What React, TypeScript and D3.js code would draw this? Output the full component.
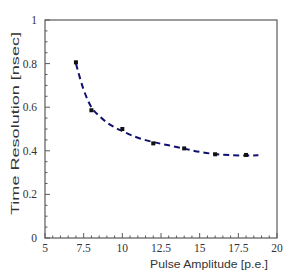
import { useEffect, useRef } from "react";
import * as d3 from "d3";

// measured points
const amplitude = [7, 8, 10, 12, 14, 16, 18];
const resolution = [0.806, 0.586, 0.5, 0.434, 0.411, 0.384, 0.381];

// fit curve
const fitX = [7, 7.5, 8, 8.5, 9, 10, 11, 12, 13, 14, 15, 16, 17, 18, 18.8];
const fitY = [0.8, 0.68, 0.6, 0.56, 0.53, 0.49, 0.46, 0.44, 0.425, 0.41, 0.395, 0.385, 0.38, 0.378, 0.38];

const xTicks = [5, 7.5, 10, 12.5, 15, 17.5, 20];
const yTicks = [0, 0.2, 0.4, 0.6, 0.8, 1];

export default function App() {
  const svgRef = useRef<SVGSVGElement>(null);

  useEffect(() => {
    if (!svgRef.current) return;
    const svg = d3.select(svgRef.current);
    svg.selectAll("*").remove();

    const left = 45, right = 277, top = 20, bottom = 238;
    const x = d3.scaleLinear().domain([5, 20]).range([left, right]);
    const y = d3.scaleLinear().domain([0, 1]).range([bottom, top]);
    const axisCol = "#5a5a5a";

    // frame
    svg.append("rect")
      .attr("x", left).attr("y", top)
      .attr("width", right - left).attr("height", bottom - top)
      .attr("fill", "none").attr("stroke", axisCol).attr("stroke-width", 1.2);

    // x ticks (inside, pointing up)
    const xMinor = d3.range(5, 20.01, 0.5);
    svg.append("g").selectAll("line").data(xMinor).join("line")
      .attr("x1", (d) => x(d)).attr("x2", (d) => x(d))
      .attr("y1", bottom)
      .attr("y2", (d) => bottom - (xTicks.includes(d) ? 5 : 2.5))
      .attr("stroke", axisCol).attr("stroke-width", 1);

    svg.append("g").selectAll("text").data(xTicks).join("text")
      .attr("x", (d) => x(d)).attr("y", 252)
      .attr("text-anchor", "middle")
      .attr("font-family", "Liberation Serif, serif")
      .attr("font-size", 11.5).attr("fill", "#333")
      .text((d) => String(d));

    // y ticks
    const yMinor = d3.range(0, 1.001, 0.05);
    svg.append("g").selectAll("line").data(yMinor).join("line")
      .attr("x1", left)
      .attr("x2", (d) => left + (Math.abs(Math.round(d * 5) - d * 5) < 1e-6 ? 5 : 2.5))
      .attr("y1", (d) => y(d)).attr("y2", (d) => y(d))
      .attr("stroke", axisCol).attr("stroke-width", 1);

    svg.append("g").selectAll("text").data(yTicks).join("text")
      .attr("x", 37).attr("y", (d) => y(d))
      .attr("dy", "0.35em")
      .attr("text-anchor", "end")
      .attr("font-family", "Liberation Serif, serif")
      .attr("font-size", 11.5).attr("fill", "#333")
      .text((d) => String(d));

    // axis titles
    svg.append("text")
      .attr("x", 268).attr("y", 268)
      .attr("text-anchor", "end")
      .attr("font-family", "Liberation Sans, Arial, sans-serif")
      .attr("font-size", 11.5).attr("fill", "#333")
      .attr("textLength", 118).attr("lengthAdjust", "spacingAndGlyphs")
      .text("Pulse Amplitude [p.e.]");

    svg.append("text")
      .attr("transform", "translate(19,32) rotate(-90)")
      .attr("text-anchor", "end")
      .attr("font-family", "Liberation Sans, Arial, sans-serif")
      .attr("font-size", 11.5).attr("fill", "#333")
      .attr("textLength", 183).attr("lengthAdjust", "spacingAndGlyphs")
      .text("Time Resolution [nsec]");

    // fit curve
    const line = d3.line<number>()
      .x((_, i) => x(fitX[i]))
      .y((d) => y(d))
      .curve(d3.curveMonotoneX);
    svg.append("path")
      .attr("d", line(fitY))
      .attr("fill", "none")
      .attr("stroke", "#10106e")
      .attr("stroke-width", 2)
      .attr("stroke-dasharray", "6,4");

    // points
    svg.append("g").selectAll("rect").data(resolution).join("rect")
      .attr("x", (_, i) => x(amplitude[i]) - 2)
      .attr("y", (d) => y(d) - 2)
      .attr("width", 4).attr("height", 4)
      .attr("fill", "#111");
  }, []);

  return (
    <div style={{ position: "absolute", left: 0, top: 0 }}>
      <svg ref={svgRef} width={288} height={277} style={{ display: "block", background: "#fff" }} />
    </div>
  );
}
